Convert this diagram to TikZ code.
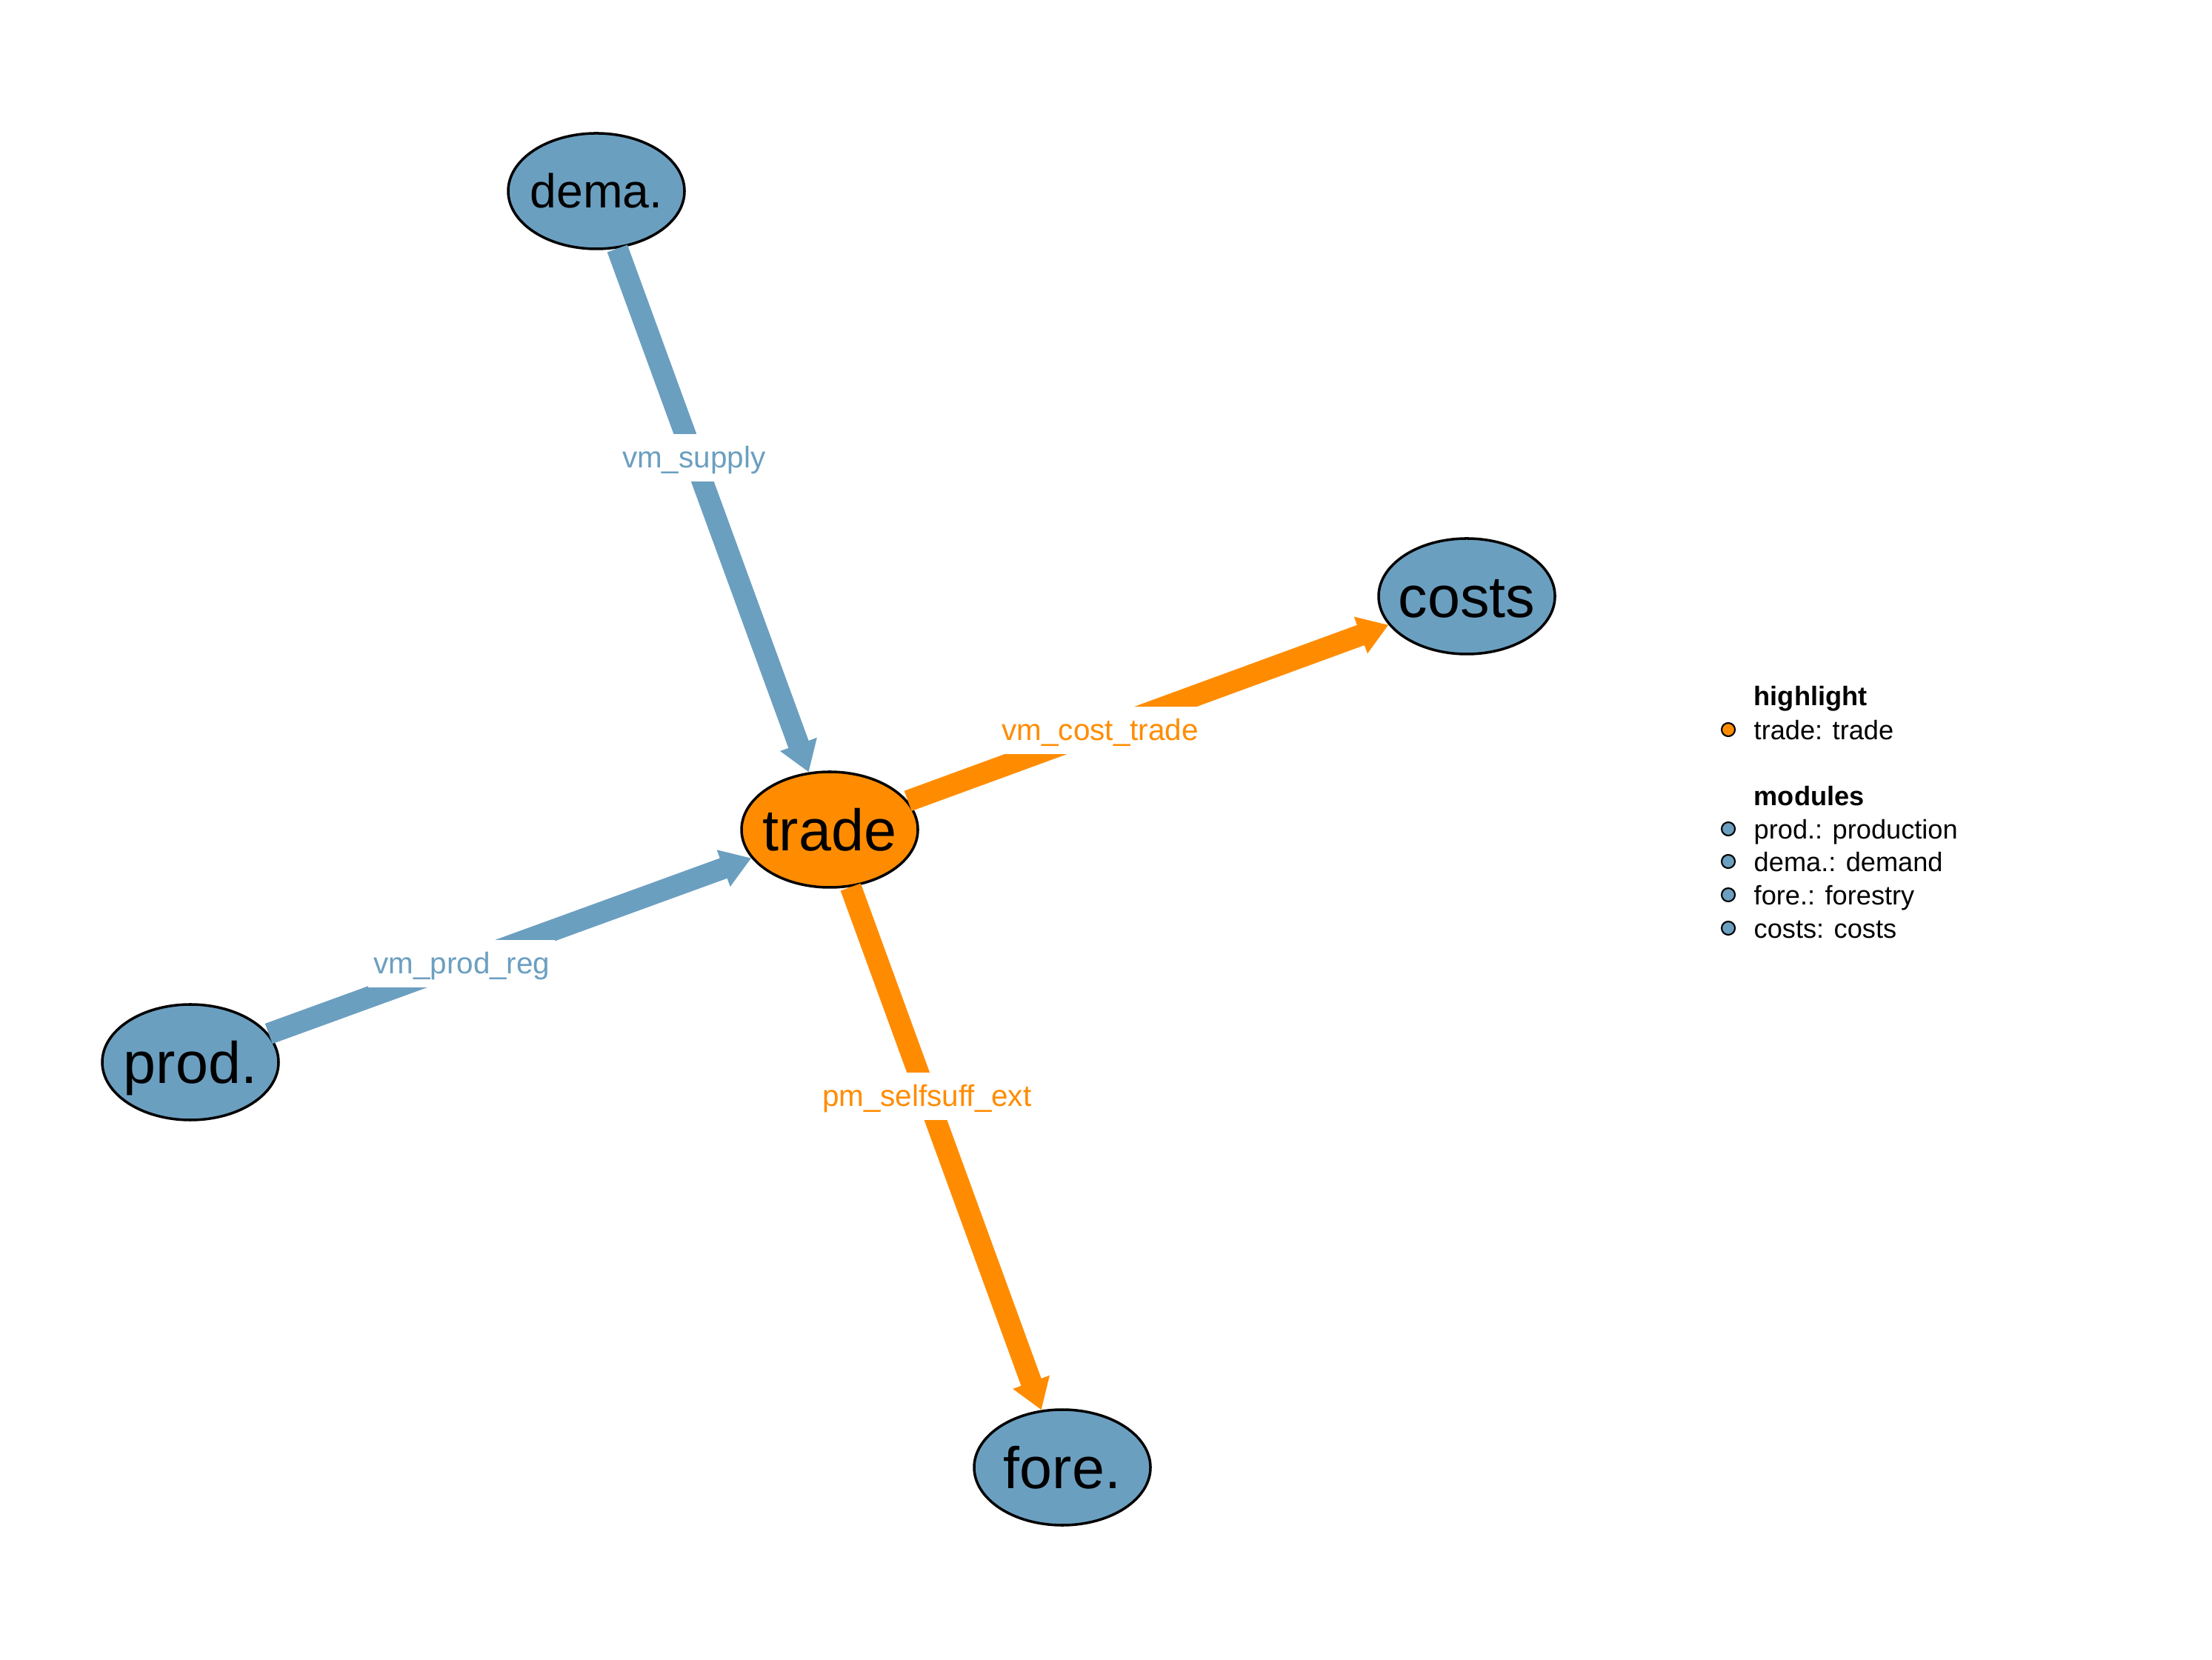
\documentclass[tikz,border=0pt]{standalone}
\usepackage{fontspec}
\setmainfont{Liberation Sans}
\usepackage{tikz}
\usetikzlibrary{arrows.meta,shapes.geometric}
\definecolor{modblue}{RGB}{107,159,192}
\definecolor{hlorange}{RGB}{255,140,0}
\newcommand{\modname}[1]{\makebox[0pt]{#1}}

\begin{document}
\begin{tikzpicture}[>={Triangle[length=0.4cm,width=0.5cm]},
  module/.style={ellipse,draw=black,line width=1pt,fill=modblue,
    minimum width=2.38cm,minimum height=1.56cm,inner sep=0pt,
    text height=16.1pt,text depth=0pt,font=\fontsize{22.5}{27}\selectfont},
  flow/.style={->,line width=0.29cm},
  varlabel/.style={fill=white,inner xsep=2pt,inner ysep=4.5pt,
    text height=8.4pt,text depth=0.8pt,font=\fontsize{11.5}{14}\selectfont},
  legdot/.style={circle,draw=black,line width=0.6pt,inner sep=0pt,minimum size=0.18cm},
  legtext/.style={anchor=base west,inner sep=0pt,font=\fontsize{10.3}{12}\selectfont}]
  \useasboundingbox (0,0) rectangle (29.86,22.40);

  % modules
  \node[module,fill=hlorange] (trade) at (11.20,11.20) {\modname{trade}};
  \node[module,text height=13.1pt,font=\fontsize{18.3}{22}\selectfont] (dema) at (8.05,19.82) {\modname{dema.}};
  \node[module] (costs) at (19.80,14.35) {\modname{costs}};
  \node[module] (prod) at (2.57,8.06) {\modname{prod.}};
  \node[module] (fore) at (14.34,2.59) {\modname{fore.}};

  % interfaces
  \draw[flow,modblue] (dema) -- (trade)
    node[varlabel,text=modblue,pos=0.4] (lsupply) {vm\_supply};
  \draw[flow,modblue] (prod) -- (trade)
    node[varlabel,text=modblue,pos=0.4] (lprodreg) {vm\_prod\_reg};
  \draw[flow,hlorange] (trade) -- (costs)
    node[varlabel,text=hlorange,pos=0.4] (lcost) {vm\_cost\_trade};
  \draw[flow,hlorange] (trade) -- (fore)
    node[varlabel,text=hlorange,pos=0.4] (lself) {pm\_selfsuff\_ext};

  % legend
  \node[legtext,font=\fontsize{10.3}{12}\selectfont\bfseries] (lghigh) at (23.67,12.87) {highlight};
  \node[legdot,fill=hlorange] (dtrade) at (23.33,12.55) {};
  \node[legtext] (lgtrade) at (23.67,12.41) {trade: trade};
  \node[legtext,font=\fontsize{10.3}{12}\selectfont\bfseries] (lgmod) at (23.67,11.52) {modules};
  \node[legdot,fill=modblue] (dprod) at (23.33,11.21) {};
  \node[legtext] (lgprod) at (23.67,11.07) {prod.: production};
  \node[legdot,fill=modblue] (ddema) at (23.33,10.77) {};
  \node[legtext] (lgdema) at (23.67,10.63) {dema.: demand};
  \node[legdot,fill=modblue] (dfore) at (23.33,10.32) {};
  \node[legtext] (lgfore) at (23.67,10.18) {fore.: forestry};
  \node[legdot,fill=modblue] (dcosts) at (23.33,9.87) {};
  \node[legtext] (lgcosts) at (23.67,9.73) {costs: costs};
\end{tikzpicture}
\end{document}
